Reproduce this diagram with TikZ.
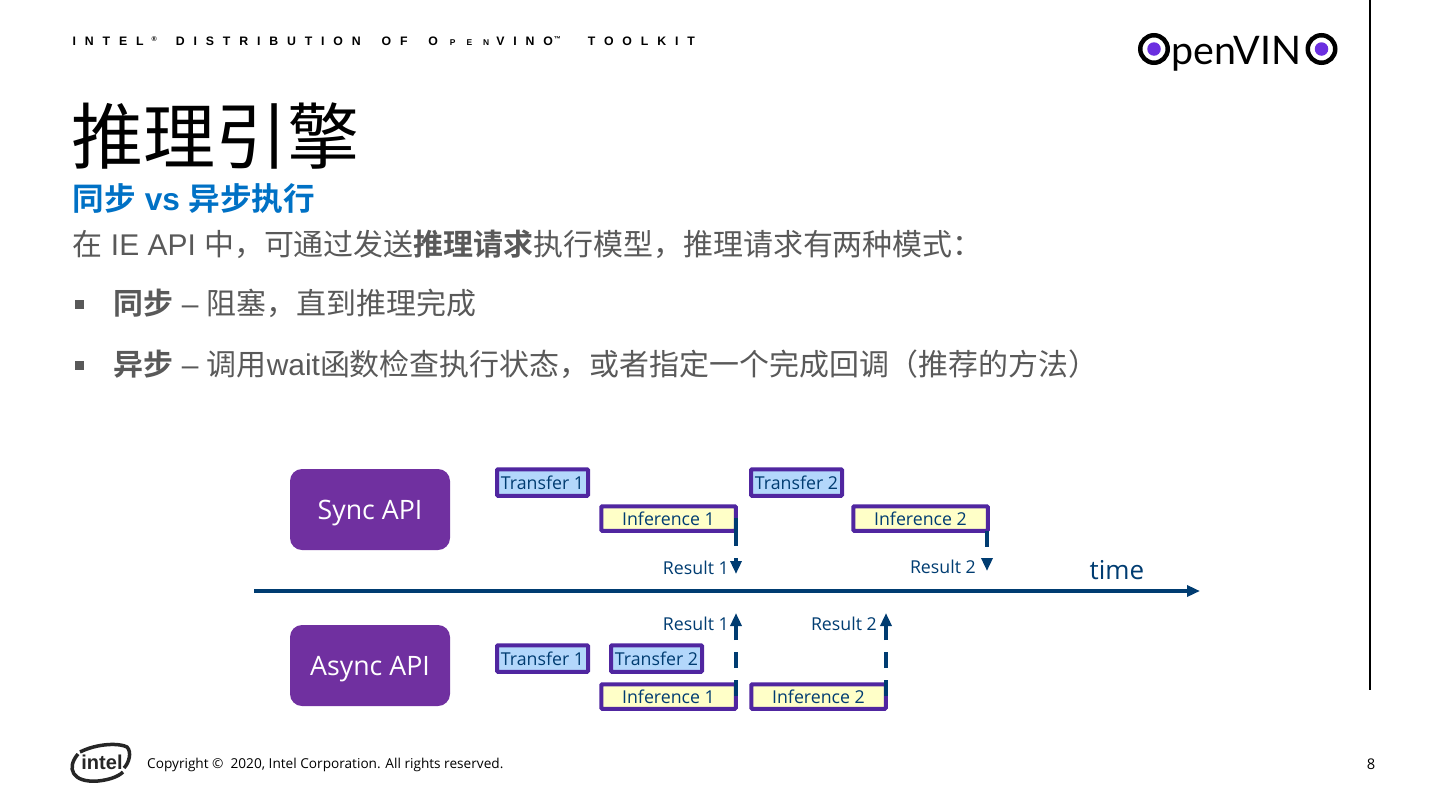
\documentclass[tikz,border=0pt]{standalone}
\usepackage{fontspec}
\setmainfont{Liberation Sans}
\newfontfamily\cjk[BoldFont=Noto Sans CJK SC Bold]{Noto Sans CJK SC}
\newfontfamily\clear{Open Sans}
\newfontfamily\headfont[LetterSpace=72,WordSpace=1.7]{Liberation Sans Bold}
\newfontfamily\headsmall[LetterSpace=130]{Liberation Sans Bold}
\newfontfamily\logofont{Lato}
\usetikzlibrary{arrows.meta}
\definecolor{apipurple}{HTML}{7030A0}
\definecolor{edgepurple}{HTML}{5026A0}
\definecolor{eyepurple}{HTML}{6B2FE0}
\definecolor{navy}{HTML}{003C71}
\definecolor{intelblue}{HTML}{0071C5}
\definecolor{bodygray}{HTML}{595959}
\definecolor{transferfill}{HTML}{B3D7FB}
\definecolor{inferfill}{HTML}{FFFFC8}
\begin{document}
\begin{tikzpicture}[>={Triangle[width=0.11cm,length=0.13cm]},
          apibox/.style={draw=none, fill=apipurple, text=white, rounded corners=0.12cm, minimum width=1.6cm, minimum height=0.81cm, inner sep=0pt, text depth=0pt, font=\clear\fontsize{7.6pt}{9pt}\selectfont},
          transferbox/.style={draw=edgepurple, line width=0.04cm, fill=transferfill, text=navy, rounded corners=0.01cm, minimum width=0.91cm, minimum height=0.265cm, inner sep=0pt, font=\clear\fontsize{5.05pt}{6pt}\selectfont},
          inferbox/.style={transferbox, fill=inferfill, minimum width=1.345cm, minimum height=0.245cm},
          resultlabel/.style={anchor=east, inner sep=0pt, text=navy, font=\clear\fontsize{5.05pt}{6pt}\selectfont},
          slidetext/.style={anchor=base west, inner sep=0pt, text=bodygray, font=\fontsize{8.52pt}{10pt}\selectfont},
          bulletbox/.style={fill=bodygray, minimum size=0.09cm, inner sep=0pt},
          eyering/.style={draw, line width=0.045cm, circle, minimum size=0.275cm, inner sep=0pt},
          eyepupil/.style={circle, fill=eyepurple, minimum size=0.135cm, inner sep=0pt},
          flow/.style={navy, line width=0.035cm}]
        \useasboundingbox (0,0) rectangle (14.4,8.1);
        % header
        \node[anchor=base west, inner sep=0pt, font=\headfont\fontsize{3.5pt}{4pt}\selectfont] (head) at (0.72,7.645) {INTEL\kern0.08cm\raisebox{1pt}{\fontsize{2pt}{2pt}\selectfont ®}\kern0.19cm DISTRIBUTION OF O\kern0.12cm{\headsmall\fontsize{2.4pt}{3pt}\selectfont PEN}\kern0.07cm VINO\kern0.01cm\raisebox{1pt}{\fontsize{2pt}{2pt}\selectfont ™}\kern0.27cm TOOLKIT};
        \draw[line width=0.02cm] (13.70,8.1) -- (13.70,1.2);
        % logo
        \node[eyering] (eyea) at (11.54,7.61) {};
        \node[eyepupil] (pupila) at (11.54,7.61) {};
        \node[anchor=base west, inner sep=0pt, font=\logofont\fontsize{11.2pt}{12pt}\selectfont] (logotext) at (11.71,7.46) {penVIN};
        \node[eyering] (eyeb) at (13.215,7.61) {};
        \node[eyepupil] (pupilb) at (13.215,7.61) {};
        % heading
        \node[anchor=base west, inner sep=0pt, font=\cjk\fontsize{20.5pt}{24pt}\selectfont] (title) at (0.71,6.47) {推理引擎};
        \node[anchor=base west, inner sep=0pt, text=intelblue, font=\bfseries\fontsize{9pt}{10pt}\selectfont] (subtitle) at (0.72,6.0) {{\cjk 同步} vs {\cjk 异步执行}};
        \node[slidetext] (intro) at (0.72,5.55) {{\cjk 在} IE API {\cjk 中，可通过发送\textbf{推理请求}执行模型，推理请求有两种模式：}};
        \node[bulletbox] (bulleta) at (0.795,5.06) {};
        \node[slidetext] (synctext) at (1.13,4.96) {{\cjk\textbf{同步}} – {\cjk 阻塞，直到推理完成}};
        \node[bulletbox] (bulletb) at (0.795,4.45) {};
        \node[slidetext] (asynctext) at (1.13,4.35) {{\cjk\textbf{异步}} – {\cjk 调用}wait{\cjk 函数检查执行状态，或者指定一个完成回调（推荐的方法）}};
        % api boxes
        \node[apibox] (sync) at (3.7,3.005) {Sync API};
        \node[apibox] (async) at (3.7,1.445) {Async API};
        % time axis
        \coordinate (axisstart) at (2.54,2.19);
        \coordinate (axisend) at (12.0,2.19);
        \draw[flow, ->] (axisstart) -- (axisend);
        \node[anchor=base west, inner sep=0pt, text=navy, font=\clear\fontsize{7.4pt}{9pt}\selectfont] (time) at (10.89,2.31) {time};
        % sync row
        \node[transferbox] (stransa) at (5.425,3.275) {Transfer 1};
        \node[inferbox] (sinfa) at (6.685,2.915) {Inference 1};
        \node[transferbox] (stransb) at (7.965,3.275) {Transfer 2};
        \node[inferbox] (sinfb) at (9.205,2.915) {Inference 2};
        \coordinate (sresa) at (7.36,2.36);
        \coordinate (sresb) at (9.87,2.39);
        \draw[flow, dash pattern=on 0.28cm off 0.12cm, ->] (7.36,2.92) -- (sresa);
        \draw[flow, dash pattern=on 0.16cm off 0.13cm, ->] (sinfb.south east -| sresb) ++(0,0.02) -- (sresb);
        \node[resultlabel] (slabela) at (7.295,2.425) {Result 1};
        \node[resultlabel] (slabelb) at (9.765,2.435) {Result 2};
        % async row
        \node[transferbox] (atransa) at (5.425,1.515) {Transfer 1};
        \node[transferbox] (atransb) at (6.565,1.515) {Transfer 2};
        \node[inferbox] (ainfa) at (6.685,1.135) {Inference 1};
        \node[inferbox] (ainfb) at (8.185,1.135) {Inference 2};
        \coordinate (aresa) at (7.36,1.97);
        \coordinate (aresb) at (8.86,1.97);
        \draw[flow, dash pattern=on 0.16cm off 0.12cm, ->] (7.36,1.14) -- (aresa);
        \draw[flow, dash pattern=on 0.16cm off 0.12cm, ->] (8.86,1.14) -- (aresb);
        \node[resultlabel] (alabela) at (7.295,1.86) {Result 1};
        \node[resultlabel] (alabelb) at (8.775,1.86) {Result 2};
        % footer
        \draw[line width=0.035cm, black!85] (0.80,0.58) .. controls (0.98,0.67) and (1.2,0.67) .. (1.27,0.63) .. controls (1.32,0.58) and (1.29,0.47) .. (1.24,0.42);
        \draw[line width=0.035cm, black!85] (0.78,0.56) .. controls (0.66,0.42) and (0.72,0.27) .. (0.98,0.29) .. controls (1.08,0.30) and (1.18,0.33) .. (1.23,0.38);
        \node[inner sep=0pt, font=\bfseries\fontsize{5.7pt}{7pt}\selectfont, text=black!85] (intellogo) at (1.02,0.475) {intel};
        \node[anchor=west, inner sep=0pt, font=\clear\fontsize{3.88pt}{5pt}\selectfont] (copy) at (1.465,0.45) {Copyright ©\ \ 2020, Intel Corporation. All rights reserved.};
        \node[inner sep=0pt, font=\clear\fontsize{4.2pt}{5pt}\selectfont] (page) at (13.71,0.455) {8};
      \end{tikzpicture}
\end{document}
